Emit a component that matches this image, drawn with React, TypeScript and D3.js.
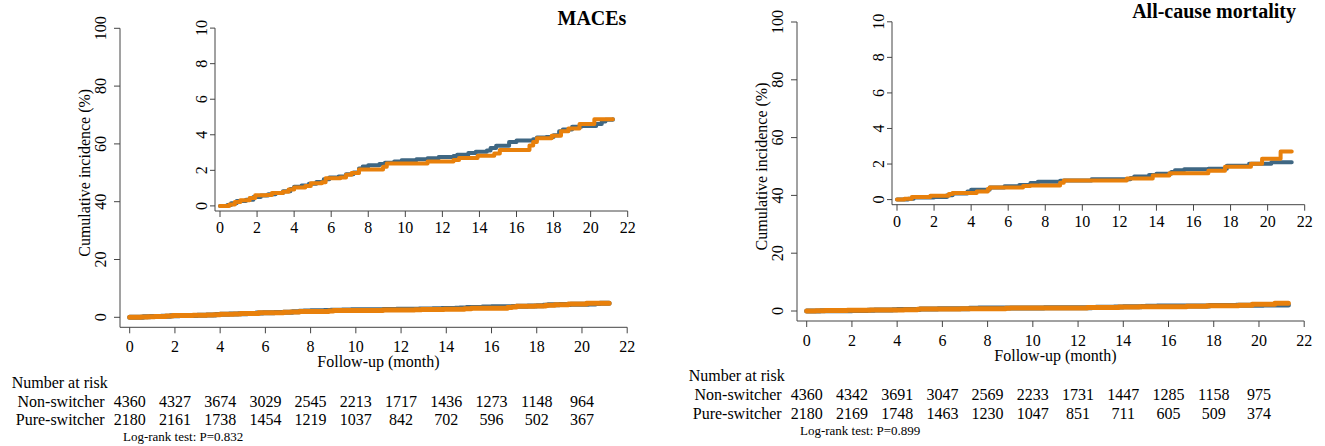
import React from "react";
import * as d3 from "d3";

// ---------- data ----------
const riskTimes = [0, 2, 4, 6, 8, 10, 12, 14, 16, 18, 20];
const xTicks = [0, 2, 4, 6, 8, 10, 12, 14, 16, 18, 20, 22];
const mainYTicks = [0, 20, 40, 60, 80, 100];
const insetYTicks = [0, 2, 4, 6, 8, 10];
const groupNames = ["Non-switcher", "Pure-switcher"];

// MACEs cumulative incidence (%) step points [month, %]
const macesNonSwitcher: [number, number][] = [
  [0, 0], [0.4, 0.05], [0.6, 0.15], [0.9, 0.28], [1.4, 0.35], [1.8, 0.5], [2.2, 0.58], [2.6, 0.65],
  [3.0, 0.72], [3.4, 0.82], [3.8, 0.95], [4.0, 1.08], [4.4, 1.15], [4.8, 1.25], [5.2, 1.35], [5.6, 1.5],
  [5.9, 1.6], [6.4, 1.65], [6.8, 1.78], [7.2, 1.88], [7.5, 2.1], [7.7, 2.22], [8.0, 2.28], [8.6, 2.35],
  [8.9, 2.42], [9.4, 2.5], [9.8, 2.57], [10.6, 2.62], [11.2, 2.68], [11.8, 2.75], [12.6, 2.8], [12.8, 2.88],
  [13.4, 2.97], [13.8, 3.05], [14.4, 3.12], [14.6, 3.25], [14.9, 3.38], [15.6, 3.6], [16.0, 3.68],
  [16.9, 3.75], [17.1, 3.85], [17.6, 3.88], [18.0, 3.98], [18.3, 4.2], [18.5, 4.3], [19.0, 4.45],
  [19.5, 4.5], [20.3, 4.6], [20.6, 4.75], [20.8, 4.85], [21.2, 4.87],
];
const macesPureSwitcher: [number, number][] = [
  [0, 0], [0.5, 0.08], [0.8, 0.22], [1.1, 0.32], [1.6, 0.45], [1.9, 0.6], [2.5, 0.62], [2.8, 0.72],
  [3.4, 0.8], [3.7, 0.92], [4.0, 1.03], [4.6, 1.12], [4.9, 1.28], [5.5, 1.33], [5.7, 1.55], [6.5, 1.6],
  [6.8, 1.75], [7.1, 1.85], [7.5, 2.05], [8.8, 2.2], [9.0, 2.38], [11.2, 2.5], [12.6, 2.58], [12.9, 2.7],
  [13.9, 2.82], [14.8, 2.95], [15.1, 3.15], [16.7, 3.4], [16.9, 3.6], [17.1, 3.8], [17.9, 3.95],
  [18.4, 4.2], [18.8, 4.35], [19.4, 4.6], [20.2, 4.87], [21.2, 4.87],
];

// All-cause mortality cumulative incidence (%)
const mortNonSwitcher: [number, number][] = [
  [0, 0], [0.6, 0.05], [0.9, 0.12], [2.0, 0.15], [2.7, 0.25], [3.0, 0.35], [3.8, 0.45], [4.0, 0.56],
  [5.0, 0.68], [5.8, 0.75], [6.6, 0.82], [7.2, 0.93], [7.6, 1.0], [8.8, 1.06], [9.0, 1.08],
  [10.5, 1.14], [12.6, 1.22], [12.8, 1.3], [13.6, 1.38], [14.0, 1.45], [14.8, 1.55], [15.0, 1.65],
  [15.5, 1.7], [16.8, 1.74], [17.8, 1.9], [19.0, 2.02], [20.2, 2.1], [21.3, 2.1],
];
const mortPureSwitcher: [number, number][] = [
  [0, 0], [0.4, 0.05], [0.8, 0.15], [1.8, 0.22], [2.8, 0.32], [3.0, 0.37], [4.3, 0.45], [4.9, 0.6],
  [5.0, 0.68], [6.8, 0.76], [7.2, 0.8], [8.8, 0.95], [9.0, 1.08], [12.4, 1.18], [13.8, 1.35],
  [14.7, 1.48], [16.8, 1.62], [17.7, 1.85], [19.1, 2.02], [19.7, 2.3], [20.7, 2.7], [21.3, 2.7],
];

const macesRisk = [
  [4360, 4327, 3674, 3029, 2545, 2213, 1717, 1436, 1273, 1148, 964],
  [2180, 2161, 1738, 1454, 1219, 1037, 842, 702, 596, 502, 367],
];
const mortRisk = [
  [4360, 4342, 3691, 3047, 2569, 2233, 1731, 1447, 1285, 1158, 975],
  [2180, 2169, 1748, 1463, 1230, 1047, 851, 711, 605, 509, 374],
];

const BLUE = "#3f6783";
const ORANGE = "#e8800b";
const AXIS = "#444";
const FONT = '"Liberation Serif", "Times New Roman", Times, serif';

type PanelProps = {
  ox: number;
  oy: number;
  title: string;
  titleX: number;
  titleY: number;
  series: [number, number][][];
  risk: number[][];
  pText: string;
};

function Panel({ ox, oy, title, titleX, titleY, series, risk, pText }: PanelProps) {
  const xMain = d3.scaleLinear().domain([0, 22]).range([129.7 + ox, 627.2 + ox]);
  const yMain = d3.scaleLinear().domain([0, 100]).range([317.3 + oy, 28.3 + oy]);
  const xIn = d3.scaleLinear().domain([0, 22]).range([220 + ox, 627.7 + ox]);
  const yIn = d3.scaleLinear().domain([0, 10]).range([205.9 + oy, 28.1 + oy]);

  const mainAxisX = 120 + ox;
  const mainAxisY = 327.3 + oy;
  const inAxisX = 215 + ox;
  const inAxisY = 211 + oy;

  const lineMain = d3
    .line<[number, number]>()
    .x((d) => xMain(d[0]))
    .y((d) => yMain(d[1]))
    .curve(d3.curveStepAfter);
  const lineIn = d3
    .line<[number, number]>()
    .x((d) => xIn(d[0]))
    .y((d) => yIn(d[1]))
    .curve(d3.curveStepAfter);
  const colors = [BLUE, ORANGE];
  const ts = { fontFamily: FONT } as React.CSSProperties;

  return (
    <g fill="#000">
      {/* title */}
      <text x={titleX} y={titleY} textAnchor="end" fontWeight="bold" fontSize={20} style={ts}>
        {title}
      </text>

      {/* main axes */}
      <path
        d={`M${mainAxisX},${yMain(100)}V${mainAxisY}H${xMain(22)}`}
        fill="none"
        stroke={AXIS}
        strokeWidth={1}
      />
      {mainYTicks.map((t) => (
        <g key={"my" + t}>
          <line x1={mainAxisX - 6} x2={mainAxisX} y1={yMain(t)} y2={yMain(t)} stroke={AXIS} />
          <text
            transform={`translate(${106.3 + ox},${yMain(t)}) rotate(-90)`}
            textAnchor="middle"
            fontSize={16}
            style={ts}
          >
            {t}
          </text>
        </g>
      ))}
      {xTicks.map((t) => (
        <g key={"mx" + t}>
          <line x1={xMain(t)} x2={xMain(t)} y1={mainAxisY} y2={mainAxisY + 6} stroke={AXIS} />
          <text x={xMain(t)} y={352.3 + oy} textAnchor="middle" fontSize={16} style={ts}>
            {t}
          </text>
        </g>
      ))}
      <text
        transform={`translate(${90 + ox},${(yMain(0) + yMain(100)) / 2}) rotate(-90)`}
        textAnchor="middle"
        fontSize={16}
        style={ts}
      >
        Cumulative incidence (%)
      </text>
      <text x={(xMain(0) + xMain(22)) / 2} y={367 + oy} textAnchor="middle" fontSize={16} style={ts}>
        Follow-up (month)
      </text>

      {/* main curves */}
      {series.map((s, i) => (
        <path
          key={"ml" + i}
          d={lineMain(s) || ""}
          fill="none"
          stroke={colors[i]}
          strokeWidth={5}
          strokeLinecap="round"
          strokeLinejoin="round"
        />
      ))}

      {/* inset axes */}
      <path
        d={`M${inAxisX},${yIn(10)}V${inAxisY}H${xIn(22)}`}
        fill="none"
        stroke={AXIS}
        strokeWidth={1}
      />
      {insetYTicks.map((t) => (
        <g key={"iy" + t}>
          <line x1={inAxisX - 5} x2={inAxisX} y1={yIn(t)} y2={yIn(t)} stroke={AXIS} />
          <text
            transform={`translate(${206.7 + ox},${yIn(t)}) rotate(-90)`}
            textAnchor="middle"
            fontSize={16}
            style={ts}
          >
            {t}
          </text>
        </g>
      ))}
      {xTicks.map((t) => (
        <g key={"ix" + t}>
          <line x1={xIn(t)} x2={xIn(t)} y1={inAxisY} y2={inAxisY + 6} stroke={AXIS} />
          <text x={xIn(t)} y={233.3 + oy} textAnchor="middle" fontSize={16} style={ts}>
            {t}
          </text>
        </g>
      ))}
      {series.map((s, i) => (
        <path
          key={"il" + i}
          d={lineIn(s) || ""}
          fill="none"
          stroke={colors[i]}
          strokeWidth={4}
          strokeLinecap="round"
          strokeLinejoin="round"
        />
      ))}

      {/* number at risk */}
      <text x={11.7 + ox} y={387.5 + oy} fontSize={16} style={ts}>
        Number at risk
      </text>
      {groupNames.map((g, gi) => (
        <g key={"g" + gi}>
          <text x={104.6 + ox} y={406.5 + oy + gi * 18.4} textAnchor="end" fontSize={16} style={ts}>
            {g}
          </text>
          {riskTimes.map((t, ti) => (
            <text
              key={"r" + ti}
              x={xMain(t)}
              y={406.5 + oy + gi * 18.4}
              textAnchor="middle"
              fontSize={16}
              style={ts}
            >
              {risk[gi][ti]}
            </text>
          ))}
        </g>
      ))}
      <text x={123 + ox} y={441 + oy} fontSize={13} style={ts}>
        {pText}
      </text>
    </g>
  );
}

export default function App() {
  return (
    <svg
      width={1325}
      height={446}
      style={{ position: "absolute", left: 0, top: 0, background: "#fff", fontFamily: FONT }}
    >
      <rect width={1325} height={446} fill="#fff" />
      <Panel
        ox={0}
        oy={0}
        title="MACEs"
        titleX={626.4}
        titleY={24.5}
        series={[macesNonSwitcher, macesPureSwitcher]}
        risk={macesRisk}
        pText="Log-rank test: P=0.832"
      />
      <Panel
        ox={677}
        oy={-6.3}
        title="All-cause mortality"
        titleX={1296}
        titleY={18}
        series={[mortNonSwitcher, mortPureSwitcher]}
        risk={mortRisk}
        pText="Log-rank test: P=0.899"
      />
    </svg>
  );
}
